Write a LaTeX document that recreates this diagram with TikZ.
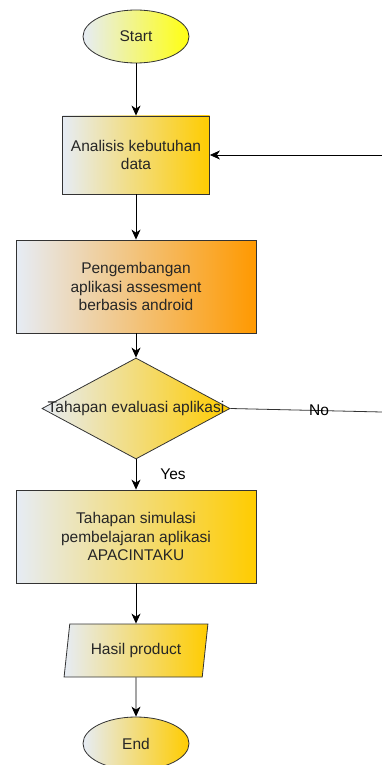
\documentclass[tikz,border=0pt]{standalone}
\usepackage{fontspec}
\setmainfont{Liberation Sans}
\usepackage{tikz}
\usetikzlibrary{arrows.meta,shapes}

\definecolor{pale}{HTML}{E6ECF5}
\definecolor{gold}{HTML}{FFCC00}
\definecolor{lemon}{HTML}{FFFF10}
\definecolor{amber}{HTML}{FF9900}
\definecolor{edge}{HTML}{333333}

\begin{document}
\begin{tikzpicture}[x=1pt, y=1pt, inner sep=0pt, font=\fontsize{15.5}{18.5}\selectfont]
    \tikzstyle{term}=[ellipse, draw=edge, thick, left color=pale, right color=gold, text=black!85, minimum width=106pt, minimum height=53pt]
    \tikzstyle{proc}=[rectangle, draw=edge, thick, left color=pale, right color=gold, text=black!85, align=center]
    \tikzstyle{test}=[diamond, draw=edge, thick, left color=pale, right color=gold, minimum width=188pt, minimum height=101pt]
    \tikzstyle{io}=[trapezium, trapezium left angle=75, trapezium right angle=105, trapezium stretches=true, draw=edge, thick, left color=pale, right color=gold, text=black!85, minimum width=145pt, minimum height=53pt]
    \tikzstyle{flow}=[-{Stealth[length=10pt,width=9pt,inset=3pt]}, draw=black, thick]
    \tikzstyle{back}=[draw=black!80, thick]

    \useasboundingbox (0,0) rectangle (382,-765);

    \node[term, right color=lemon] (start) at (136,-36.5) {Start};
    \node[proc, minimum width=147pt, minimum height=78pt] (analisis) [node distance=118.5pt, below of=start] {Analisis kebutuhan\\data};
    \node[proc, right color=amber, minimum width=240pt, minimum height=93pt] (kembang) [node distance=131.5pt, below of=analisis] {Pengembangan\\aplikasi assesment\\berbasis android};
    \node[test, label={[text=black!85]center:Tahapan evaluasi aplikasi}] (evaluasi) [node distance=122pt, below of=kembang] {};
    \node[proc, minimum width=240pt, minimum height=93pt] (simulasi) [node distance=128pt, below of=evaluasi] {Tahapan simulasi\\pembelajaran aplikasi\\APACINTAKU};
    \node[io] (hasil) [node distance=114pt, below of=simulasi] {Hasil product};
    \node[term] (end) [node distance=93pt, below of=hasil] {End};

    \coordinate (balik) at (382,-155);
    \coordinate (tidak) at (382,-412);

    \draw[flow] (start) -- (analisis);
    \draw[flow] (analisis) -- (kembang);
    \draw[flow] (kembang) -- (evaluasi);
    \draw[flow] (evaluasi) -- node[right, xshift=24pt] {Yes} (simulasi);
    \draw[flow] (simulasi) -- (hasil);
    \draw[flow] (hasil) -- (end);
    \draw[back] (evaluasi.east) -- node[pos=0.585] {No} (tidak);
    \draw[flow] (balik) -- (analisis.east);
\end{tikzpicture}
\end{document}
